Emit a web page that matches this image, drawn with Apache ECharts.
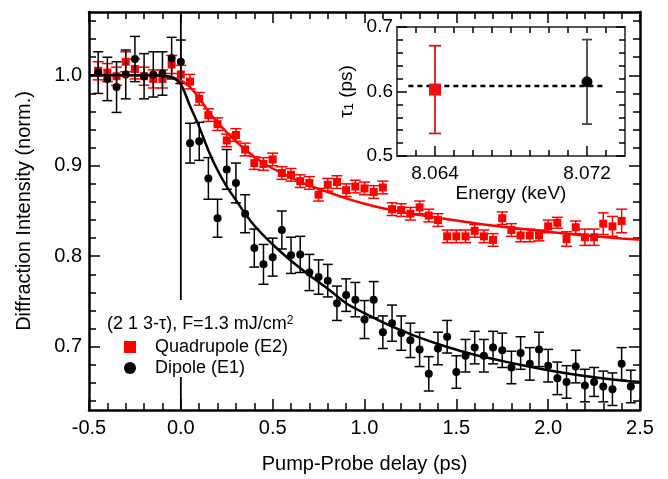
<!DOCTYPE html>
<html><head><meta charset="utf-8">
<script src="https://cdn.jsdelivr.net/npm/echarts@6/dist/echarts.min.js"></script>
<style>html,body{margin:0;padding:0;background:#fff}#c{width:668px;height:479px}</style>
</head><body><div id="c"></div>
<script>
// ---------- data ----------
const dipoleDelays = [-0.45,-0.40,-0.35,-0.30,-0.25,-0.20,-0.15,-0.10,-0.05,0.00,0.05,0.10,0.15,0.20,0.25,0.30,0.35,0.40,0.45,0.50,0.55,0.60,0.65,0.70,0.75,0.80,0.85,0.90,0.95,1.00,1.05,1.10,1.15,1.20,1.25,1.30,1.35,1.40,1.45,1.50,1.55,1.60,1.65,1.70,1.75,1.80,1.85,1.90,1.95,2.00,2.05,2.10,2.15,2.20,2.25,2.30,2.35,2.40,2.45];
const dipoleValues = [1.003,0.996,0.987,1.001,1.018,0.999,1.001,1.002,1.019,1.015,0.925,0.927,0.886,0.842,0.896,0.881,0.847,0.809,0.791,0.799,0.829,0.801,0.802,0.782,0.777,0.773,0.748,0.757,0.752,0.730,0.752,0.716,0.726,0.715,0.707,0.697,0.670,0.698,0.711,0.672,0.690,0.699,0.690,0.699,0.696,0.677,0.693,0.681,0.697,0.679,0.665,0.661,0.678,0.657,0.661,0.656,0.653,0.681,0.656];
const dipoleErrors = [0.023,0.024,0.028,0.027,0.025,0.025,0.025,0.024,0.023,0.024,0.022,0.021,0.023,0.021,0.022,0.022,0.021,0.021,0.022,0.021,0.021,0.020,0.020,0.020,0.019,0.018,0.019,0.018,0.019,0.021,0.020,0.018,0.020,0.019,0.019,0.019,0.019,0.018,0.018,0.018,0.018,0.018,0.018,0.018,0.019,0.018,0.018,0.018,0.019,0.018,0.018,0.018,0.018,0.018,0.016,0.017,0.018,0.018,0.018];

const quadDelays = [-0.45,-0.40,-0.35,-0.30,-0.25,-0.20,-0.15,-0.10,-0.05,0.00,0.05,0.10,0.15,0.20,0.25,0.30,0.35,0.40,0.45,0.50,0.55,0.60,0.65,0.70,0.75,0.80,0.85,0.90,0.95,1.00,1.05,1.10,1.15,1.20,1.25,1.30,1.35,1.40,1.45,1.50,1.55,1.60,1.65,1.70,1.75,1.80,1.85,1.90,1.95,2.00,2.05,2.10,2.15,2.20,2.25,2.30,2.35,2.40];
const quadValues = [1.005,1.003,0.999,1.015,1.007,0.999,0.996,0.996,1.012,1.001,0.993,0.974,0.956,0.946,0.928,0.934,0.918,0.903,0.902,0.907,0.892,0.890,0.883,0.881,0.868,0.879,0.882,0.873,0.877,0.875,0.871,0.876,0.852,0.851,0.847,0.854,0.845,0.840,0.822,0.822,0.822,0.828,0.822,0.818,0.842,0.829,0.823,0.823,0.823,0.833,0.837,0.819,0.832,0.821,0.821,0.836,0.833,0.839];
const quadErrors = [0.010,0.010,0.010,0.011,0.011,0.010,0.010,0.010,0.010,0.010,0.008,0.007,0.007,0.007,0.007,0.007,0.007,0.007,0.007,0.007,0.007,0.007,0.007,0.007,0.007,0.007,0.007,0.007,0.007,0.007,0.007,0.007,0.007,0.007,0.007,0.007,0.007,0.007,0.007,0.007,0.007,0.007,0.007,0.007,0.007,0.007,0.007,0.007,0.006,0.007,0.006,0.008,0.007,0.009,0.009,0.012,0.011,0.013];

const fitDelays = [-0.5,-0.3,-0.15,-0.1,-0.05,0,0.05,0.1,0.15,0.2,0.25,0.3,0.35,0.4,0.45,0.5,0.6,0.7,0.8,0.9,1.0,1.1,1.2,1.3,1.4,1.6,1.8,2.0,2.2,2.4,2.5];
const quadFit   = [1.0,1.0,1.0,0.9996,0.998,0.9945,0.987,0.975,0.960,0.948,0.937,0.927,0.918,0.910,0.903,0.897,0.887,0.878,0.871,0.864,0.858,0.853,0.849,0.8455,0.8425,0.8365,0.8315,0.827,0.823,0.8195,0.8182];
const dipoleFit = [1.0,1.0,1.0,0.9995,0.998,0.990,0.966,0.943,0.917,0.895,0.877,0.862,0.847,0.834,0.823,0.813,0.795,0.779,0.764,0.748,0.737,0.727,0.718,0.710,0.703,0.691,0.682,0.674,0.6675,0.6625,0.661];
const timeZero = 0;

const yMajorTicks = [0.7,0.8,0.9,1.0];
const yMinorTicks = [0.64,0.66,0.68,0.72,0.74,0.76,0.78,0.82,0.84,0.86,0.88,0.92,0.94,0.96,0.98,1.02,1.04,1.06];

// inset
const energies = [8.064, 8.072];
const tau1 = [0.603, 0.615];
const tau1Err = [0.068, 0.0655];
const tauMeanLineX = [8.0626, 8.0730];
const tauMeanLineY = [0.6087, 0.6087];
const energyMajorTicks = [8.064, 8.072];
const energyMinorTicks = [8.063,8.065,8.066,8.067,8.068,8.069,8.070,8.071,8.073];
const energyAllTicks = [8.063,8.064,8.065,8.066,8.067,8.068,8.069,8.070,8.071,8.072,8.073];

// ---------- chart ----------
const FONT = 'Liberation Sans, Arial, Helvetica, sans-serif';
const BLK = '#000';

function errorBars(name, xs, ys, errs, color, xi, yi, capHalf, lw, z) {
  return {
    type: 'custom', name: name, xAxisIndex: xi, yAxisIndex: yi, z: z, silent: true, clip: true,
    data: xs.map((x, i) => [x, ys[i] - errs[i], ys[i] + errs[i]]),
    encode: { x: 0, y: [1, 2] },
    renderItem: function (params, api) {
      const lo = api.coord([api.value(0), api.value(1)]);
      const hi = api.coord([api.value(0), api.value(2)]);
      const st = { stroke: color, lineWidth: lw };
      return { type: 'group', children: [
        { type: 'line', shape: { x1: lo[0], y1: lo[1], x2: hi[0], y2: hi[1] }, style: st },
        { type: 'line', shape: { x1: lo[0] - capHalf, y1: lo[1], x2: lo[0] + capHalf, y2: lo[1] }, style: st },
        { type: 'line', shape: { x1: hi[0] - capHalf, y1: hi[1], x2: hi[0] + capHalf, y2: hi[1] }, style: st }
      ]};
    }
  };
}

function valAxis(o) {
  const base = {
    type: 'value', splitLine: { show: false },
    axisLine: { show: true, onZero: false, lineStyle: { color: BLK, width: 2.5 } },
    axisTick: { show: true, inside: true, length: 11, lineStyle: { color: BLK, width: 1.5 } },
    axisLabel: { show: false, color: BLK, fontSize: 20, fontFamily: FONT },
    nameTextStyle: { color: BLK, fontSize: 20, fontFamily: FONT }
  };
  for (const k in o) {
    if (typeof o[k] === 'object' && !Array.isArray(o[k]) && base[k]) base[k] = Object.assign({}, base[k], o[k]);
    else base[k] = o[k];
  }
  return base;
}

const chart = echarts.init(document.getElementById('c'), null, { renderer: 'canvas' });

const option = {
  backgroundColor: '#fff',
  animation: false,
  textStyle: { fontFamily: FONT },
  grid: [
    { left: 89, right: 28, top: 12, bottom: 67 },
    { left: 397, top: 27, width: 228, height: 129 }
  ],
  xAxis: [
    valAxis({ gridIndex: 0, position: 'bottom', min: -0.5, max: 2.5, interval: 0.5,
      minorTick: { show: true, splitNumber: 5, length: 7, lineStyle: { color: BLK, width: 1.5 } },
      axisLabel: { show: true, margin: 8, formatter: v => v.toFixed(1) },
      name: 'Pump-Probe delay (ps)', nameLocation: 'middle', nameGap: 44 }),
    valAxis({ gridIndex: 0, position: 'top', min: -0.5, max: 2.5, interval: 0.5,
      minorTick: { show: true, splitNumber: 5, length: 7, lineStyle: { color: BLK, width: 1.5 } } }),
    valAxis({ gridIndex: 1, position: 'bottom', min: 8.062, max: 8.074,
      axisLine: { lineStyle: { width: 2 } },
      axisTick: { customValues: energyMajorTicks, length: 10 },
      axisLabel: { show: true, customValues: energies, margin: 8, fontSize: 19, formatter: v => v.toFixed(3) },
      name: 'Energy (keV)', nameLocation: 'middle', nameGap: 22, nameTextStyle: { fontSize: 19 } }),
    valAxis({ gridIndex: 1, position: 'bottom', min: 8.062, max: 8.074,
      axisLine: { show: false }, axisTick: { customValues: energyMinorTicks, length: 6 } }),
    valAxis({ gridIndex: 1, position: 'top', min: 8.062, max: 8.074,
      axisLine: { lineStyle: { width: 2 } }, axisTick: { customValues: energyAllTicks, length: 6 } })
  ],
  yAxis: [
    valAxis({ gridIndex: 0, position: 'left', min: 0.63, max: 1.07,
      axisTick: { customValues: yMajorTicks },
      axisLabel: { show: true, customValues: yMajorTicks, margin: 7, formatter: v => v.toFixed(1) },
      name: 'Diffraction Intensity (norm.)', nameLocation: 'middle', nameRotate: 90, nameGap: 55 }),
    valAxis({ gridIndex: 0, position: 'left', min: 0.63, max: 1.07,
      axisLine: { show: false }, axisTick: { customValues: yMinorTicks, length: 7 } }),
    valAxis({ gridIndex: 0, position: 'right', min: 0.63, max: 1.07,
      axisTick: { customValues: yMajorTicks } }),
    valAxis({ gridIndex: 0, position: 'right', min: 0.63, max: 1.07,
      axisLine: { show: false }, axisTick: { customValues: yMinorTicks, length: 7 } }),
    valAxis({ gridIndex: 1, position: 'left', min: 0.5, max: 0.7, interval: 0.1,
      axisLine: { lineStyle: { width: 2 } },
      axisTick: { length: 10 },
      minorTick: { show: true, splitNumber: 5, length: 6, lineStyle: { color: BLK, width: 1.5 } },
      axisLabel: { show: true, margin: 4, fontSize: 19, formatter: v => v.toFixed(1) },
      name: '{a|τ}{s|1}{a| (ps)}', nameLocation: 'middle', nameRotate: 90, nameGap: 41,
      nameTextStyle: { rich: {
        a: { fontSize: 19, fontFamily: FONT, color: BLK },
        s: { fontSize: 13, fontFamily: FONT, color: BLK, verticalAlign: 'bottom' } } } }),
    valAxis({ gridIndex: 1, position: 'right', min: 0.5, max: 0.7, interval: 0.1,
      axisLine: { lineStyle: { width: 2 } },
      axisTick: { length: 9 },
      minorTick: { show: true, splitNumber: 5, length: 6, lineStyle: { color: BLK, width: 1.5 } } })
  ],
  legend: {
    orient: 'vertical', left: 119, top: 333, itemWidth: 40, itemHeight: 12, itemGap: 3, z: 110,
    selectedMode: false,
    textStyle: { fontSize: 18, color: BLK, fontFamily: FONT, lineHeight: 18 },
    data: [
      { name: 'Quadrupole (E2)', icon: 'path://M0,0H10V10H0Z' },
      { name: 'Dipole (E1)', icon: 'circle' }
    ]
  },
  graphic: [
    { type: 'rect', shape: { x: 104, y: 300, width: 194, height: 77 }, style: { fill: '#fff' }, z: 100, silent: true },
    { type: 'text', left: 107, top: 315, z: 105, silent: true,
      style: { text: '{a|(2 1 3-τ), F=1.3 mJ/cm}{s|2}',
        rich: { a: { fontSize: 18, fontFamily: FONT, fill: BLK }, s: { fontSize: 12, fontFamily: FONT, fill: BLK, verticalAlign: 'top' } } } }
  ],
  series: [
    // time-zero vertical line, spanning the axis range
    { type: 'line', name: 'timeZero', xAxisIndex: 0, yAxisIndex: 0, z: 1, symbol: 'none', silent: true,
      lineStyle: { color: '#000', width: 1.8 },
      data: [[timeZero, 0.63], [timeZero, 1.07]] },
    errorBars('quadErr', quadDelays, quadValues, quadErrors, '#ff0000', 0, 0, 5.5, 1.5, 2),
    { type: 'scatter', name: 'Quadrupole (E2)', xAxisIndex: 0, yAxisIndex: 0, z: 3,
      symbol: 'rect', symbolSize: 8, itemStyle: { color: '#ff0000', opacity: 1 },
      data: quadDelays.map((t, i) => [t, quadValues[i]]) },
    errorBars('dipErr', dipoleDelays, dipoleValues, dipoleErrors, '#000000', 0, 0, 5, 1.5, 4),
    { type: 'scatter', name: 'Dipole (E1)', xAxisIndex: 0, yAxisIndex: 0, z: 5,
      symbol: 'circle', symbolSize: 8, itemStyle: { color: '#000000', opacity: 1 },
      data: dipoleDelays.map((t, i) => [t, dipoleValues[i]]) },
    { type: 'line', name: 'quadFit', xAxisIndex: 0, yAxisIndex: 0, z: 6, symbol: 'none', smooth: 0.3,
      lineStyle: { color: '#ff0000', width: 2.5 },
      data: fitDelays.map((t, i) => [t, quadFit[i]]) },
    { type: 'line', name: 'dipFit', xAxisIndex: 0, yAxisIndex: 0, z: 7, symbol: 'none', smooth: 0.3,
      lineStyle: { color: '#000000', width: 2.5 },
      data: fitDelays.map((t, i) => [t, dipoleFit[i]]) },
    // inset
    { type: 'line', name: 'tauMean', xAxisIndex: 2, yAxisIndex: 4, z: 2, symbol: 'none',
      lineStyle: { color: '#000', width: 2.5, type: [5, 4] },
      data: tauMeanLineX.map((x, i) => [x, tauMeanLineY[i]]) },
    errorBars('tauErrQ', [energies[0]], [tau1[0]], [tau1Err[0]], '#d01818', 2, 4, 6, 1.8, 3),
    errorBars('tauErrD', [energies[1]], [tau1[1]], [tau1Err[1]], '#444444', 2, 4, 5, 1.8, 3),
    { type: 'scatter', name: 'tauQ', xAxisIndex: 2, yAxisIndex: 4, z: 4, symbol: 'rect', symbolSize: 12,
      itemStyle: { color: '#ee1111', opacity: 1 }, data: [[energies[0], tau1[0]]] },
    { type: 'scatter', name: 'tauD', xAxisIndex: 2, yAxisIndex: 4, z: 4, symbol: 'circle', symbolSize: 11,
      itemStyle: { color: '#000', opacity: 1 }, data: [[energies[1], tau1[1]]] }
  ]
};
chart.setOption(option);
</script>
</body></html>
